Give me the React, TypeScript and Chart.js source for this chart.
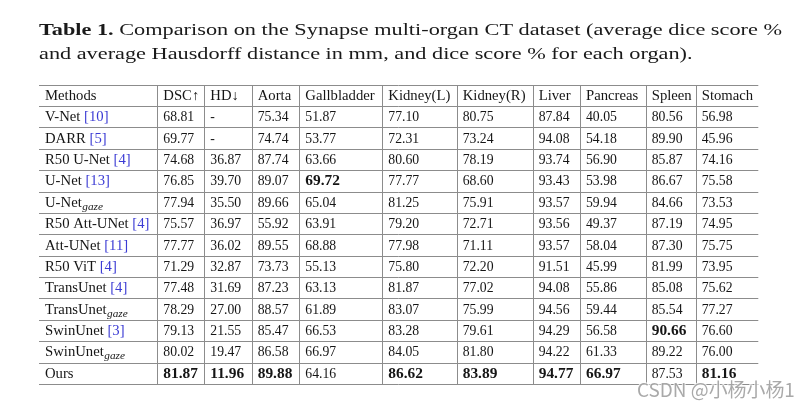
import React, { useEffect, useRef } from "react";
import { Chart, registerables } from "chart.js";

Chart.register(...registerables);

const headers = ["Methods", "DSC\u2191", "HD\u2193", "Aorta", "Gallbladder", "Kidney(L)", "Kidney(R)", "Liver", "Pancreas", "Spleen", "Stomach"];
const methods = ["V-Net", "DARR", "R50 U-Net", "U-Net", "U-Net", "R50 Att-UNet", "Att-UNet", "R50 ViT", "TransUnet", "TransUnet", "SwinUnet", "SwinUnet", "Ours"];
const citations = ["10", "5", "4", "13", "", "4", "11", "4", "4", "", "3", "", ""];
const subscripts = ["", "", "", "", "gaze", "", "", "", "", "gaze", "", "gaze", ""];
const dsc = [68.81, 69.77, 74.68, 76.85, 77.94, 75.57, 77.77, 71.29, 77.48, 78.29, 79.13, 80.02, 81.87];
const hd = [null, null, 36.87, 39.7, 35.5, 36.97, 36.02, 32.87, 31.69, 27.0, 21.55, 19.47, 11.96];
const aorta = [75.34, 74.74, 87.74, 89.07, 89.66, 55.92, 89.55, 73.73, 87.23, 88.57, 85.47, 86.58, 89.88];
const gallbladder = [51.87, 53.77, 63.66, 69.72, 65.04, 63.91, 68.88, 55.13, 63.13, 61.89, 66.53, 66.97, 64.16];
const kidneyL = [77.1, 72.31, 80.6, 77.77, 81.25, 79.2, 77.98, 75.8, 81.87, 83.07, 83.28, 84.05, 86.62];
const kidneyR = [80.75, 73.24, 78.19, 68.6, 75.91, 72.71, 71.11, 72.2, 77.02, 75.99, 79.61, 81.8, 83.89];
const liver = [87.84, 94.08, 93.74, 93.43, 93.57, 93.56, 93.57, 91.51, 94.08, 94.56, 94.29, 94.22, 94.77];
const pancreas = [40.05, 54.18, 56.9, 53.98, 59.94, 49.37, 58.04, 45.99, 55.86, 59.44, 56.58, 61.33, 66.97];
const spleen = [80.56, 89.9, 85.87, 86.67, 84.66, 87.19, 87.3, 81.99, 85.08, 85.54, 90.66, 89.22, 87.53];
const stomach = [56.98, 45.96, 74.16, 75.58, 73.53, 74.95, 75.75, 73.95, 75.62, 77.27, 76.6, 76.0, 81.16];
const lowerIsBetter = [false, true, false, false, false, false, false, false, false, false];

const titleBold = "Table 1.";
const titleLine1 = " Comparison on the Synapse multi-organ CT dataset (average dice score %";
const titleLine2 = "and average Hausdorff distance in mm, and dice score % for each organ).";
const watermark = "CSDN @\u5c0f\u6768\u5c0f\u67681";

// layout (column widths in px-units for the linear x scale)
const COL_W = [118.3, 47, 47.4, 47.6, 83, 74.4, 76, 47.3, 65.7, 50, 62.6];

const FONT = '"Liberation Serif", "DejaVu Serif", serif';

function drawText(ctx: CanvasRenderingContext2D, txt: string, x: number, y: number, sx: number) {
  ctx.save();
  ctx.translate(x, y);
  ctx.scale(sx, 1);
  ctx.fillText(txt, 0, 0);
  const w = ctx.measureText(txt).width * sx;
  ctx.restore();
  return w;
}

export default function App() {
  const ref = useRef<HTMLCanvasElement | null>(null);
  useEffect(() => {
    const canvas = ref.current;
    if (!canvas) return;
    const valueCols = [dsc, hd, aorta, gallbladder, kidneyL, kidneyR, liver, pancreas, spleen, stomach];
    const edges: number[] = [0];
    COL_W.forEach((w) => edges.push(edges[edges.length - 1] + w));
    const total = edges[edges.length - 1];
    const nRows = methods.length + 1;

    const best = valueCols.map((col, i) => {
      const vals = col.filter((v) => v !== null) as number[];
      return lowerIsBetter[i] ? Math.min(...vals) : Math.max(...vals);
    });

    const tablePlugin = {
      id: "tablePlugin",
      beforeDraw(chart: any) {
        const ctx = chart.ctx;
        ctx.save();
        ctx.fillStyle = "#ffffff";
        ctx.fillRect(0, 0, chart.width, chart.height);
        ctx.restore();
      },
      afterDraw(chart: any) {
        const ctx: CanvasRenderingContext2D = chart.ctx;
        const xs = chart.scales.x;
        const ys = chart.scales.y;
        ctx.save();
        ctx.textBaseline = "alphabetic";
        // title
        const left = xs.getPixelForValue(0);
        ctx.fillStyle = "#1a1a1a";
        const ts = 16.6;
        ctx.font = `bold ${ts}px ${FONT}`;
        const wb = ctx.measureText(titleBold).width;
        ctx.font = `${ts}px ${FONT}`;
        const wr = ctx.measureText(titleLine1).width;
        const tsx = 743 / (wb + wr);
        ctx.font = `bold ${ts}px ${FONT}`;
        drawText(ctx, titleBold, left, 35, tsx);
        ctx.font = `${ts}px ${FONT}`;
        drawText(ctx, titleLine1, left + wb * tsx, 35, tsx);
        drawText(ctx, titleLine2, left, 59, tsx);

        // grid lines
        ctx.strokeStyle = "#8c8c8c";
        ctx.lineWidth = 1;
        const yTop = Math.round(ys.getPixelForValue(0));
        const yBot = Math.round(ys.getPixelForValue(nRows));
        for (let r = 0; r <= nRows; r++) {
          const y = Math.round(ys.getPixelForValue(r)) + 0.5;
          ctx.beginPath();
          ctx.moveTo(xs.getPixelForValue(0), y);
          ctx.lineTo(xs.getPixelForValue(total), y);
          ctx.stroke();
        }
        for (let c = 1; c < edges.length - 1; c++) {
          const x = Math.round(xs.getPixelForValue(edges[c])) + 0.5;
          ctx.beginPath();
          ctx.moveTo(x, yTop);
          ctx.lineTo(x, yBot + 1);
          ctx.stroke();
        }

        const fs = 14;
        const textSx = 1.05;
        const pad = 6;
        const baseFor = (r: number) => ys.getPixelForValue(r + 1) - 6.2;
        // header
        ctx.fillStyle = "#151515";
        ctx.font = `${fs}px ${FONT}`;
        headers.forEach((h, c) => {
          drawText(ctx, h, xs.getPixelForValue(edges[c]) + pad, baseFor(0), textSx);
        });
        // rows
        methods.forEach((m, i) => {
          const r = i + 1;
          const by = baseFor(r);
          let x = xs.getPixelForValue(edges[0]) + pad;
          ctx.font = `${fs}px ${FONT}`;
          ctx.fillStyle = "#151515";
          x += drawText(ctx, m, x, by, textSx);
          if (subscripts[i]) {
            ctx.font = `italic ${fs * 0.72}px ${FONT}`;
            drawText(ctx, subscripts[i], x + 0.5, by + 3, 1.12);
          }
          if (citations[i]) {
            ctx.font = `${fs}px ${FONT}`;
            x += ctx.measureText(" ").width * textSx;
            ctx.fillStyle = "#3b3bd4";
            drawText(ctx, `[${citations[i]}]`, x, by, textSx);
          }
          valueCols.forEach((col, ci) => {
            const v = col[i];
            const isBest = v !== null && v === best[ci];
            ctx.font = `${isBest ? "bold " : ""}${fs}px ${FONT}`;
            ctx.fillStyle = "#151515";
            const txt = v === null ? "-" : v.toFixed(2);
            drawText(ctx, txt, xs.getPixelForValue(edges[ci + 1]) + pad, by, isBest ? 1.1 : 0.98);
          });
        });

        // watermark
        let ws = 17;
        ctx.font = `${ws}px "Noto Sans CJK SC", "Noto Sans", sans-serif`;
        const ww = ctx.measureText(watermark).width;
        ws = (ws * 158) / ww;
        ctx.font = `${ws}px "Noto Sans CJK SC", "Noto Sans", sans-serif`;
        ctx.lineWidth = 2;
        ctx.strokeStyle = "rgba(255,255,255,0.8)";
        ctx.strokeText(watermark, 637, 397);
        ctx.fillStyle = "rgba(140,140,140,0.75)";
        ctx.fillText(watermark, 637, 397);
        ctx.restore();
      },
    };

    const chart = new Chart(canvas, {
      type: "scatter",
      data: { datasets: [] },
      options: {
        animation: false,
        responsive: false,
        events: [],
        layout: { padding: { left: 39, top: 84.7, right: 810 - 39 - total, bottom: 408 - 384 } },
        scales: {
          x: { type: "linear", min: 0, max: total, display: false },
          y: { type: "linear", min: 0, max: nRows, reverse: true, display: false },
        },
        plugins: { legend: { display: false }, tooltip: { enabled: false }, title: { display: false } },
      },
      plugins: [tablePlugin],
    } as any);
    return () => chart.destroy();
  }, []);

  return (
    <div style={{ position: "absolute", left: 0, top: 0, width: 810, height: 408, background: "#fff" }}>
      <canvas ref={ref} width={810} height={408} style={{ display: "block" }} />
    </div>
  );
}
